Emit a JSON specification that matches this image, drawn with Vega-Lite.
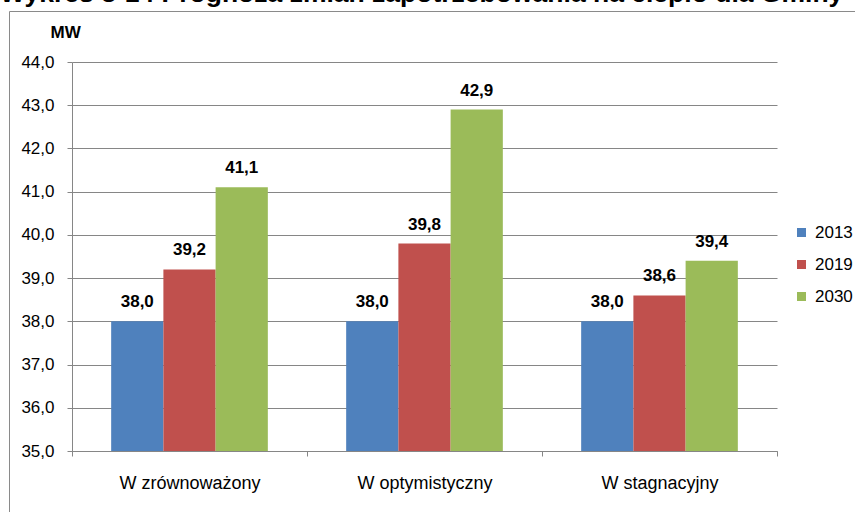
{
  "$schema": "https://vega.github.io/schema/vega-lite/v6.json",
  "width": 705,
  "height": 389,
  "autosize": {"type": "none"},
  "padding": {"left": 72, "top": 62, "right": 78, "bottom": 61},
  "background": "white",
  "title": {
    "text": "Wykres 3-14 Prognoza zmian zapotrzebowania na ciepło dla Gminy",
    "anchor": "start",
    "frame": "group",
    "orient": "top",
    "dx": -72,
    "baseline": "alphabetic",
    "offset": 10,
    "dy": 28,
    "font": "Liberation Sans",
    "fontSize": 26.5,
    "fontWeight": "bold",
    "color": "#000000"
  },
  "data": {
    "values": [
      {"scenario": "W zrównoważony", "year": "2013", "value": 38.0},
      {"scenario": "W zrównoważony", "year": "2019", "value": 39.2},
      {"scenario": "W zrównoważony", "year": "2030", "value": 41.1},
      {"scenario": "W optymistyczny", "year": "2013", "value": 38.0},
      {"scenario": "W optymistyczny", "year": "2019", "value": 39.8},
      {"scenario": "W optymistyczny", "year": "2030", "value": 42.9},
      {"scenario": "W stagnacyjny", "year": "2013", "value": 38.0},
      {"scenario": "W stagnacyjny", "year": "2019", "value": 38.6},
      {"scenario": "W stagnacyjny", "year": "2030", "value": 39.4}
    ]
  },
  "encoding": {
    "x": {
      "field": "scenario",
      "type": "nominal",
      "sort": ["W zrównoważony", "W optymistyczny", "W stagnacyjny"],
      "scale": {"paddingInner": 0, "paddingOuter": 0},
      "axis": {
        "title": null,
        "labelAngle": 0,
        "tickBand": "extent",
        "tickSize": 5,
        "labelPadding": 18,
        "labelFontSize": 18,
        "grid": false
      }
    },
    "xOffset": {
      "field": "year",
      "type": "nominal",
      "sort": ["2013", "2019", "2030"],
      "scale": {"paddingInner": 0, "paddingOuter": 0.75}
    },
    "y": {
      "field": "value",
      "type": "quantitative",
      "scale": {"domain": [35, 44], "nice": false, "zero": false},
      "axis": {
        "title": "MW",
        "titleAngle": 0,
        "titleAlign": "left",
        "titleBaseline": "alphabetic",
        "titleX": -22,
        "titleY": -25,
        "titleFontSize": 17,
        "titleFontWeight": "bold",
        "values": [35, 36, 37, 38, 39, 40, 41, 42, 43, 44],
        "format": ".1f",
        "tickSize": 5,
        "labelPadding": 13,
        "labelFontSize": 17,
        "grid": true
      }
    }
  },
  "layer": [
    {
      "mark": {"type": "bar", "clip": true},
      "encoding": {
        "y2": {"datum": 35},
        "color": {
          "field": "year",
          "type": "nominal",
          "scale": {"domain": ["2013", "2019", "2030"], "range": ["#4F81BD", "#C0504D", "#9BBB59"]},
          "legend": {
            "title": null,
            "orient": "none",
            "legendX": 721,
            "legendY": 162,
            "padding": 0,
            "symbolType": "square",
            "symbolSize": 81,
            "symbolStrokeWidth": 0,
            "labelFontSize": 17,
            "labelOffset": 5,
            "rowPadding": 14
          }
        }
      }
    },
    {
      "mark": {
        "type": "text",
        "fontWeight": "bold",
        "fontSize": 17,
        "baseline": "alphabetic",
        "dy": -14,
        "font": "Liberation Sans",
        "color": "#000000"
      },
      "encoding": {
        "text": {"field": "value", "type": "quantitative", "format": ".1f"},
        "opacity": {
          "field": "scenario",
          "type": "nominal",
          "scale": {"range": [1, 1, 1]},
          "legend": {
            "title": null,
            "orient": "none",
            "legendX": -63,
            "legendY": -51,
            "padding": 800,
            "strokeColor": "#8a8a8a",
            "labelFontSize": 1,
            "labelOpacity": 0,
            "symbolOpacity": 0,
            "symbolSize": 1
          }
        }
      }
    }
  ],
  "config": {
    "locale": {"number": {"decimal": ",", "thousands": " ", "grouping": [3], "currency": ["", " zł"]}},
    "font": "Liberation Sans",
    "view": {"stroke": null},
    "axis": {
      "domainColor": "#868686",
      "tickColor": "#868686",
      "gridColor": "#868686",
      "labelColor": "#000000",
      "titleColor": "#000000",
      "labelFont": "Liberation Sans",
      "titleFont": "Liberation Sans"
    },
    "legend": {"labelFont": "Liberation Sans", "labelColor": "#000000"}
  }
}
